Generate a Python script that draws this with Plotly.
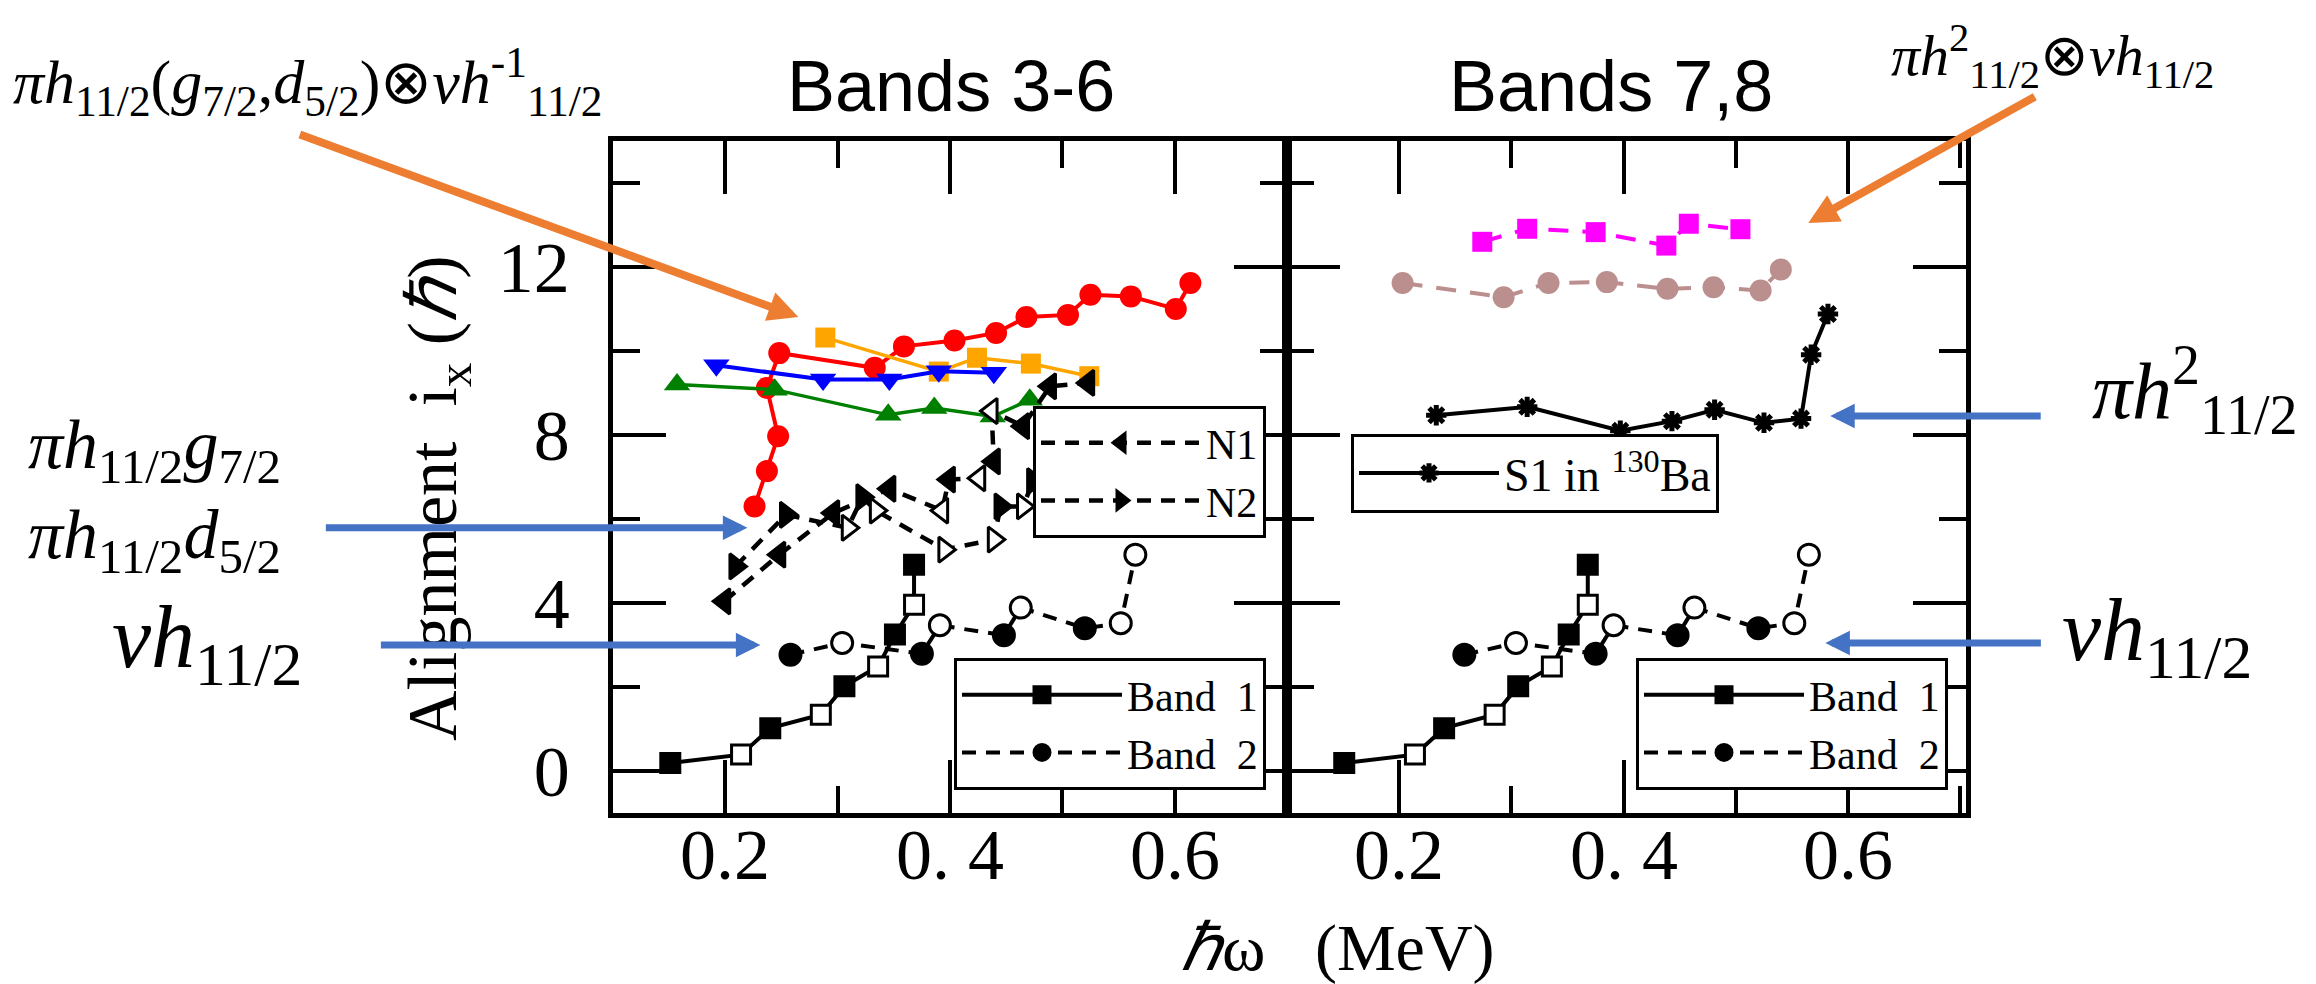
import plotly.graph_objects as go

# ---------------- data ----------------
x_tickvals = [0.2, 0.4, 0.6]
x_ticktext = ["0.2", "0.\u00a04", "0.6"]
y_tickvals = [0, 4, 8, 12]
y_ticktext = ["0", "4", "8", "12"]

# Band 1 and Band 2 (shown in both panels); '+' filled, '-' open
band1_w = [0.151, 0.214, 0.240, 0.285, 0.306, 0.336, 0.351, 0.368, 0.368]
band1_i = [0.19, 0.39, 1.02, 1.34, 2.02, 2.49, 3.25, 3.96, 4.91]
band1_sig = ["+", "-", "+", "-", "+", "-", "+", "-", "+"]

band2_w = [0.258, 0.304, 0.375, 0.391, 0.448, 0.463, 0.520, 0.552, 0.565]
band2_i = [2.77, 3.05, 2.79, 3.47, 3.23, 3.89, 3.40, 3.52, 5.15]
band2_sig = ["+", "-", "+", "-", "+", "-", "+", "-", "-"]

# Bands 3-6
red_w = [0.226, 0.237, 0.247, 0.237, 0.248, 0.333, 0.359, 0.404, 0.441, 0.468, 0.505, 0.525, 0.561, 0.601, 0.614]
red_i = [6.30, 7.14, 7.97, 9.12, 9.95, 9.60, 10.11, 10.25, 10.43, 10.81, 10.86, 11.34, 11.30, 11.00, 11.62]

orange_w = [0.289, 0.390, 0.424, 0.472, 0.524]
orange_i = [10.32, 9.51, 9.84, 9.70, 9.40]

blue_w = [0.192, 0.287, 0.346, 0.390, 0.439]
blue_i = [9.66, 9.32, 9.32, 9.52, 9.48]

green_w = [0.157, 0.244, 0.345, 0.386, 0.438, 0.471]
green_i = [9.20, 9.08, 8.48, 8.64, 8.44, 8.84]

n1_w = [0.199, 0.248, 0.296, 0.346, 0.393, 0.399, 0.426, 0.439, 0.437, 0.465, 0.489, 0.523]
n1_i = [4.04, 5.15, 6.14, 6.72, 6.20, 6.94, 6.97, 7.37, 8.57, 8.21, 9.16, 9.24]
n1_sig = ["+", "+", "+", "+", "-", "+", "-", "+", "-", "+", "+", "+"]

n2_w = [0.209, 0.254, 0.309, 0.322, 0.334, 0.395, 0.439, 0.445, 0.465, 0.474]
n2_i = [4.87, 6.10, 5.79, 6.52, 6.20, 5.27, 5.51, 6.30, 6.30, 6.90]
n2_sig = ["+", "+", "-", "+", "-", "-", "-", "+", "-", "+"]

# Bands 7,8
mag_w = [0.274, 0.314, 0.375, 0.438, 0.458, 0.504]
mag_i = [12.60, 12.91, 12.83, 12.51, 13.03, 12.90]

rosy_w = [0.203, 0.293, 0.333, 0.385, 0.439, 0.480, 0.522, 0.540]
rosy_i = [11.62, 11.28, 11.62, 11.64, 11.48, 11.52, 11.44, 11.94]

s1_w = [0.233, 0.314, 0.397, 0.443, 0.481, 0.525, 0.558, 0.567, 0.582]
s1_i = [8.47, 8.67, 8.10, 8.33, 8.60, 8.29, 8.39, 9.91, 10.88]

# ---------------- layout geometry ----------------
W, H = 2316, 984
ML, MR, MT, MB = 605, 358, 133, 179
PW, PH = W - ML - MR, H - MT - MB
SPLIT = 674 / PW


def px(X):
    return (X - ML) / PW


def py(Y):
    return (H - MB - Y) / PH


SERIF = "Liberation Serif"
SANS = "Liberation Sans"


def fills(sig):
    return ["black" if s == "+" else "white" for s in sig]


fig = go.Figure()

# ---- left panel: Bands 3-6 ----
fig.add_trace(go.Scatter(x=red_w, y=red_i, mode="lines+markers", showlegend=False,
                         line=dict(color="#FF0000", width=4),
                         marker=dict(symbol="circle", size=22, color="#FF0000")))
fig.add_trace(go.Scatter(x=orange_w, y=orange_i, mode="lines+markers", showlegend=False,
                         line=dict(color="#FFA500", width=3.5),
                         marker=dict(symbol="square", size=20, color="#FFA500")))
fig.add_trace(go.Scatter(x=blue_w, y=blue_i, mode="lines+markers", showlegend=False,
                         line=dict(color="#0000FF", width=4),
                         marker=dict(symbol="triangle-down", size=23, color="#0000FF")))
fig.add_trace(go.Scatter(x=green_w, y=green_i, mode="lines+markers", showlegend=False,
                         line=dict(color="#008000", width=3.5),
                         marker=dict(symbol="triangle-up", size=23, color="#008000")))

fig.add_trace(go.Scatter(x=n1_w, y=n1_i, mode="lines+markers", name="N1", legend="legend2",
                         line=dict(color="black", width=4.5, dash="14px,10px"),
                         marker=dict(symbol="triangle-left", size=22, color=fills(n1_sig),
                                     line=dict(color="black", width=3))))
fig.add_trace(go.Scatter(x=n2_w, y=n2_i, mode="lines+markers", name="N2", legend="legend2",
                         line=dict(color="black", width=4.5, dash="14px,10px"),
                         marker=dict(symbol="triangle-right", size=22, color=fills(n2_sig),
                                     line=dict(color="black", width=3))))

for xa, ya, lg in (("x", "y", "legend"), ("x2", "y2", "legend3")):
    fig.add_trace(go.Scatter(x=band1_w, y=band1_i, xaxis=xa, yaxis=ya, mode="lines+markers",
                             name="Band\u00a0\u00a01", legend=lg,
                             line=dict(color="black", width=4),
                             marker=dict(symbol="square", size=19, color=fills(band1_sig),
                                         line=dict(color="black", width=3))))
    fig.add_trace(go.Scatter(x=band2_w, y=band2_i, xaxis=xa, yaxis=ya, mode="lines+markers",
                             name="Band\u00a0\u00a02", legend=lg,
                             line=dict(color="black", width=4, dash="14px,10px"),
                             marker=dict(symbol="circle", size=21, color=fills(band2_sig),
                                         line=dict(color="black", width=3))))

# ---- right panel: Bands 7,8 ----
fig.add_trace(go.Scatter(x=mag_w, y=mag_i, xaxis="x2", yaxis="y2", mode="lines+markers",
                         showlegend=False,
                         line=dict(color="#FF00FF", width=4, dash="20px,14px"),
                         marker=dict(symbol="square", size=20, color="#FF00FF")))
fig.add_trace(go.Scatter(x=rosy_w, y=rosy_i, xaxis="x2", yaxis="y2", mode="lines+markers",
                         showlegend=False,
                         line=dict(color="#BC8F8F", width=4, dash="20px,14px"),
                         marker=dict(symbol="circle", size=22, color="#BC8F8F")))
fig.add_trace(go.Scatter(x=s1_w, y=s1_i, xaxis="x2", yaxis="y2", mode="lines+markers",
                         name="S1 in <sup>130</sup>Ba", legend="legend4",
                         line=dict(color="black", width=4),
                         marker=dict(symbol="asterisk", size=17, color="black",
                                     line=dict(color="black", width=5))))

# ---------------- axes ----------------
axis_common = dict(showline=True, linecolor="black", linewidth=4.5, mirror="allticks",
                   ticks="inside", tickcolor="black", tickwidth=4, showgrid=False,
                   zeroline=False, ticklen=53,
                   tickfont=dict(family=SERIF, size=72, color="black"))
xminor = dict(ticks="inside", dtick=0.1, tick0=0.1, ticklen=27, tickwidth=4, tickcolor="black")
yminor = dict(ticks="inside", dtick=2, tick0=0, ticklen=27, tickwidth=4, tickcolor="black")

fig.update_layout(
    xaxis=dict(domain=[0, SPLIT], range=[0.1, 0.7], anchor="y", tickvals=x_tickvals,
               showticklabels=False, minor=xminor, **axis_common),
    xaxis2=dict(domain=[SPLIT, 1], range=[0.1, 0.705], anchor="y2", tickvals=x_tickvals,
                showticklabels=False, minor=xminor, **axis_common),
    yaxis=dict(domain=[0, 1], range=[-1.0, 15.0], anchor="x", tickvals=y_tickvals,
               ticktext=y_ticktext, ticklabelstandoff=24, minor=yminor, **axis_common),
    yaxis2=dict(domain=[0, 1], range=[-1.0, 15.0], anchor="x2", matches="y",
                tickvals=y_tickvals, showticklabels=False, minor=yminor, **axis_common),
)

# ---------------- legends ----------------
leg_common = dict(bgcolor="white", bordercolor="black", borderwidth=3,
                  font=dict(family=SERIF, size=42, color="black"),
                  itemwidth=160, tracegroupgap=0, xref="paper", yref="paper")
fig.update_layout(
    legend=dict(x=px(1258), y=py(716), xanchor="right", yanchor="middle", **leg_common),
    legend2=dict(x=px(1258), y=py(464), xanchor="right", yanchor="middle", **leg_common),
    legend3=dict(x=px(1940), y=py(716), xanchor="right", yanchor="middle", **leg_common),
    legend4=dict(x=px(1343), y=py(465), xanchor="left", yanchor="middle",
                 **{**leg_common, "itemwidth": 140, "font": dict(family=SERIF, size=46, color="black")}),
)

# ---------------- text ----------------
ann = []


def label(text, X, Y, size, family=SERIF, xanchor="center", yanchor="middle", angle=0,
          xref="paper"):
    ann.append(dict(text=text, x=px(X) if xref == "paper" else X, y=py(Y),
                    xref=xref, yref="paper",
                    xanchor=xanchor, yanchor=yanchor, showarrow=False, textangle=angle,
                    font=dict(family=family, size=size, color="black")))


# x tick labels placed on each panel's own scale
for axref in ("x", "x2"):
    for v, t in zip(x_tickvals, x_ticktext):
        label(t, v, 847, 72, xref=axref)

label("Bands 3-6", 943, 78, 72, family=SANS)
label("Bands 7,8", 1603, 78, 72, family=SANS)
label("<i>ℏ</i>ω\u00a0\u00a0\u00a0(MeV)", 1330, 979, 66, yanchor="bottom")
label("Alignment\u00a0\u00a0i<sub>x</sub>\u00a0(<i>ℏ</i>)", 430, 490, 70, angle=-90)

label("<i>πh</i><sub>11/2</sub>(<i>g</i><sub>7/2</sub>,<i>d</i><sub>5/2</sub>)⊗<i>νh</i><sup>-1</sup><sub>11/2</sub>",
      597, 74, 62, xanchor="right")
label("<i>πh</i><sup>2</sup><sub>11/2</sub>⊗<i>νh</i><sub>11/2</sub>", 2045, 48, 58)
label("<i>πh</i><sub>11/2</sub><i>g</i><sub>7/2</sub>", 18, 442, 70, xanchor="left")
label("<i>πh</i><sub>11/2</sub><i>d</i><sub>5/2</sub>", 18, 532, 70, xanchor="left")
label("<i>νh</i><sub>11/2</sub>", 102, 635, 88, xanchor="left")
label("<i>πh</i><sup>2</sup><sub>11/2</sub>", 2082, 382, 80, xanchor="left")
label("<i>νh</i><sub>11/2</sub>", 2052, 628, 88, xanchor="left")


def arrow(xd, yd, axis, dx, dy, color, width, size):
    ann.append(dict(text="", x=xd, y=yd, xref=axis[0], yref=axis[1], ax=dx, ay=dy,
                    showarrow=True, arrowhead=2, arrowsize=size, arrowwidth=width,
                    arrowcolor=color))


ORANGE = "#ED7D31"
BLUE = "#4472C4"
arrow(0.265, 10.81, ("x", "y"), -500, -183, ORANGE, 8, 0.75)
arrow(0.5645, 13.05, ("x2", "y2"), 228, -127, ORANGE, 8, 0.75)
arrow(0.2196, 5.79, ("x", "y"), -423, 0, BLUE, 7, 0.7)
arrow(0.2312, 3.0, ("x", "y"), -381, 0, BLUE, 7, 0.7)
arrow(0.584, 8.45, ("x2", "y2"), 212, 0, BLUE, 7, 0.7)
arrow(0.5797, 3.05, ("x2", "y2"), 217, 0, BLUE, 7, 0.7)

fig.update_layout(annotations=ann, width=W, height=H, autosize=False,
                  margin=dict(l=ML, r=MR, t=MT, b=MB, pad=0),
                  paper_bgcolor="white", plot_bgcolor="white",
                  font=dict(family=SERIF, color="black"))

fig.write_html("out.html")
